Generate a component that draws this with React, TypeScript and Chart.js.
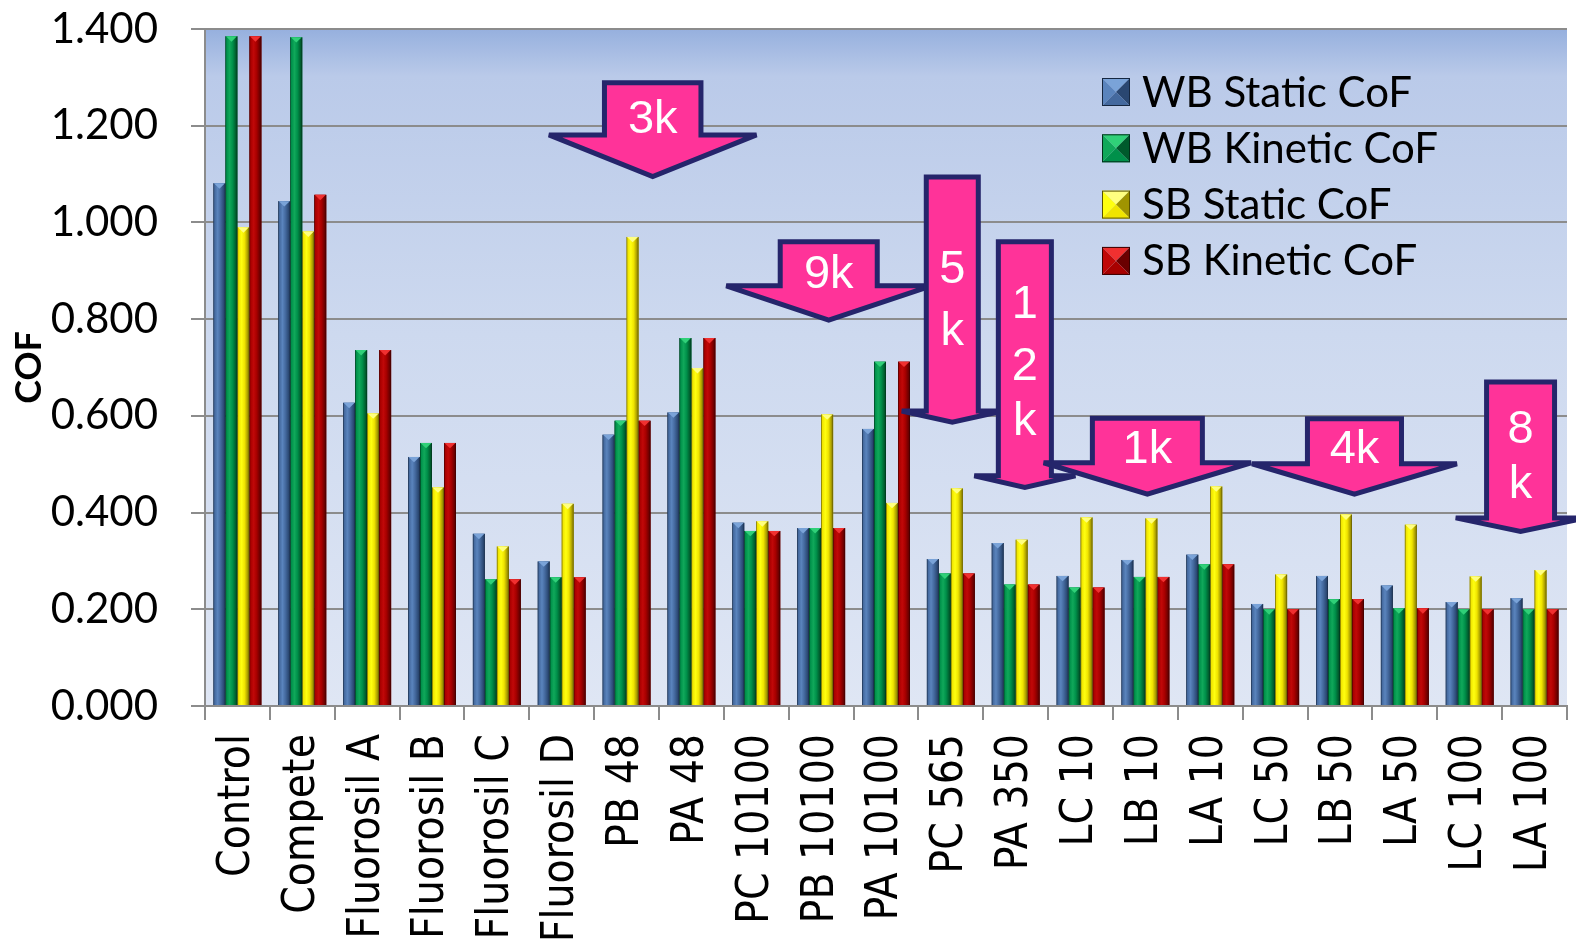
import React, { useEffect, useRef } from 'react';
import { Chart, registerables } from 'chart.js';

Chart.register(...registerables);

const CATEGORIES = [
  'Control', 'Compete', 'Fluorosil A', 'Fluorosil B', 'Fluorosil C', 'Fluorosil D',
  'PB 48', 'PA 48', 'PC 10100', 'PB 10100', 'PA 10100', 'PC 565', 'PA 350',
  'LC 10', 'LB 10', 'LA 10', 'LC 50', 'LB 50', 'LA 50', 'LC 100', 'LA 100',
];

const SERIES_NAMES = ['WB Static CoF', 'WB Kinetic CoF', 'SB Static CoF', 'SB Kinetic CoF'];

const WB_STATIC = [1.081, 1.044, 0.627, 0.515, 0.356, 0.299, 0.561, 0.607, 0.379, 0.368, 0.573, 0.304, 0.337, 0.269, 0.302, 0.313, 0.211, 0.269, 0.249, 0.215, 0.223];
const WB_KINETIC = [1.385, 1.383, 0.736, 0.544, 0.262, 0.266, 0.590, 0.761, 0.362, 0.368, 0.712, 0.274, 0.251, 0.245, 0.267, 0.293, 0.200, 0.221, 0.202, 0.200, 0.200];
const SB_STATIC = [0.990, 0.981, 0.605, 0.452, 0.330, 0.418, 0.970, 0.699, 0.382, 0.603, 0.420, 0.450, 0.344, 0.390, 0.388, 0.454, 0.272, 0.396, 0.375, 0.268, 0.281];
const SB_KINETIC = [1.385, 1.057, 0.736, 0.544, 0.262, 0.266, 0.590, 0.761, 0.362, 0.368, 0.712, 0.274, 0.251, 0.245, 0.267, 0.293, 0.200, 0.221, 0.202, 0.200, 0.200];

const Y_MIN = 0;
const Y_MAX = 1.4;
const Y_STEP = 0.2;
const Y_TITLE = 'COF';

// annotation arrows: x in category units, y in value units
const ARROW_TEXT = [['3k'], ['9k'], ['5', 'k'], ['1', '2', 'k'], ['1k'], ['4k'], ['8', 'k']];
const ARROWS = [
  { x: 6.403, body: 0.744, wing: 1.6, top: 1.289, neck: 1.181, tip: 1.095, textY: [1.211] },
  { x: 9.117, body: 0.748, wing: 1.58, top: 0.960, neck: 0.869, tip: 0.798, textY: [0.891] },
  { x: 11.022, body: 0.401, wing: 0.78, top: 1.094, neck: 0.610, tip: 0.587, textY: [0.901, 0.773] },
  { x: 12.141, body: 0.409, wing: 0.78, top: 0.960, neck: 0.476, tip: 0.452, textY: [0.829, 0.700, 0.587] },
  { x: 14.03, body: 0.848, wing: 1.6, top: 0.595, neck: 0.503, tip: 0.438, textY: [0.529] },
  { x: 17.223, body: 0.725, wing: 1.58, top: 0.594, neck: 0.501, tip: 0.438, textY: [0.529] },
  { x: 19.784, body: 0.524, wing: 1.0, top: 0.670, neck: 0.389, tip: 0.361, textY: [0.570, 0.456] },
];

const PALETTE = [
  { base: '#44699e', light: '#5a84bd', dark: '#2a4771', edge: '#162740', cap: '#7aa3d8' },
  { base: '#00904a', light: '#10a85a', dark: '#005a2c', edge: '#00301a', cap: '#30d078' },
  { base: '#f0e400', light: '#ffff10', dark: '#a09400', edge: '#5a5200', cap: '#ffff80' },
  { base: '#a80000', light: '#c00808', dark: '#6a0000', edge: '#380000', cap: '#f03030' },
];

const bgPlugin = {
  id: 'bgGradient',
  beforeDraw(chart: any) {
    const { ctx, chartArea: a } = chart;
    const g = ctx.createLinearGradient(0, a.top, 0, a.bottom);
    g.addColorStop(0, '#96b0de');
    g.addColorStop(0.07, '#bacae9');
    g.addColorStop(0.45, '#cdd9ef');
    g.addColorStop(1, '#dfe6f4');
    ctx.save();
    ctx.fillStyle = g;
    ctx.fillRect(a.left, a.top, a.right - a.left, a.bottom - a.top);
    ctx.restore();
  },
};

const barShadePlugin = {
  id: 'barShade',
  afterDatasetsDraw(chart: any) {
    const { ctx } = chart;
    ctx.save();
    chart.data.datasets.forEach((ds: any, di: number) => {
      const meta = chart.getDatasetMeta(di);
      const p = PALETTE[di];
      meta.data.forEach((el: any) => {
        const w = el.width;
        const left = el.x - w / 2;
        const right = el.x + w / 2;
        const top = Math.min(el.y, el.base);
        const bottom = Math.max(el.y, el.base);
        const g = ctx.createLinearGradient(left, 0, right, 0);
        g.addColorStop(0, p.edge);
        g.addColorStop(0.1, p.base);
        g.addColorStop(0.35, p.light);
        g.addColorStop(0.6, p.base);
        g.addColorStop(0.88, p.dark);
        g.addColorStop(1, p.edge);
        ctx.fillStyle = g;
        ctx.fillRect(left, top, w, bottom - top);
        ctx.beginPath();
        ctx.moveTo(left + 0.5, top);
        ctx.lineTo(right - 0.5, top);
        ctx.lineTo(el.x, top + w * 0.45);
        ctx.closePath();
        ctx.fillStyle = p.cap;
        ctx.fill();
      });
    });
    ctx.restore();
  },
};

const overlayPlugin = {
  id: 'overlay',
  afterDraw(chart: any) {
    const { ctx, chartArea } = chart;
    const xs = chart.scales.x;
    const ys = chart.scales.y;
    const x0 = xs.getPixelForValue(0);
    const cw = xs.getPixelForValue(1) - x0;

    // legend
    ctx.save();
    const boxX = chartArea.right - 465;
    const textX = boxX + 40;
    const y0 = chartArea.top + 63;
    const step = 56.3;
    const s = 28;
    chart.data.datasets.forEach((ds: any, i: number) => {
      const p = PALETTE[i];
      const cy = y0 + i * step;
      const bx = boxX;
      const by = cy - s / 2;
      const cxm = bx + s / 2;
      const cym = by + s / 2;
      const tri = (pts: number[][], col: string) => {
        ctx.beginPath();
        ctx.moveTo(pts[0][0], pts[0][1]);
        ctx.lineTo(pts[1][0], pts[1][1]);
        ctx.lineTo(pts[2][0], pts[2][1]);
        ctx.closePath();
        ctx.fillStyle = col;
        ctx.fill();
      };
      tri([[bx, by], [bx + s, by], [cxm, cym]], p.cap);
      tri([[bx, by], [bx, by + s], [cxm, cym]], p.light);
      tri([[bx + s, by], [bx + s, by + s], [cxm, cym]], p.dark);
      tri([[bx, by + s], [bx + s, by + s], [cxm, cym]], p.base);
      ctx.strokeStyle = p.edge;
      ctx.lineWidth = 1;
      ctx.strokeRect(bx + 0.5, by + 0.5, s - 1, s - 1);
      ctx.fillStyle = '#000';
      ctx.font = '42px Lato';
      ctx.textAlign = 'left';
      ctx.textBaseline = 'middle';
      ctx.fillText(ds.label, textX, cy + 1);
    });
    ctx.restore();

    // arrows
    ctx.save();
    ARROWS.forEach((a, i) => {
      const cx = x0 + a.x * cw;
      const bl = cx - a.body * cw;
      const br = cx + a.body * cw;
      const wl = cx - a.wing * cw;
      const wr = cx + a.wing * cw;
      const top = ys.getPixelForValue(a.top);
      const neck = ys.getPixelForValue(a.neck);
      const tip = ys.getPixelForValue(a.tip);
      ctx.beginPath();
      ctx.moveTo(bl, top);
      ctx.lineTo(br, top);
      ctx.lineTo(br, neck);
      ctx.lineTo(wr, neck);
      ctx.lineTo(cx, tip);
      ctx.lineTo(wl, neck);
      ctx.lineTo(bl, neck);
      ctx.closePath();
      ctx.fillStyle = '#ff3399';
      ctx.fill();
      ctx.lineWidth = 5;
      ctx.lineJoin = 'miter';
      ctx.miterLimit = 4;
      ctx.strokeStyle = '#25256b';
      ctx.stroke();
      ctx.fillStyle = '#ffffff';
      ctx.font = '47px "Liberation Sans", Arial, sans-serif';
      ctx.textAlign = 'center';
      ctx.textBaseline = 'middle';
      ARROW_TEXT[i].forEach((t, j) => {
        ctx.fillText(t, cx, ys.getPixelForValue(a.textY[j]));
      });
    });
    ctx.restore();
  },
};

export default function App() {
  const ref = useRef<HTMLCanvasElement | null>(null);

  useEffect(() => {
    if (!ref.current) return;
    const series = [WB_STATIC, WB_KINETIC, SB_STATIC, SB_KINETIC];
    const chart = new Chart(ref.current, {
      type: 'bar',
      data: {
        labels: CATEGORIES,
        datasets: series.map((d, i) => ({
          label: SERIES_NAMES[i],
          data: d,
          backgroundColor: PALETTE[i].base,
          borderWidth: 0,
          categoryPercentage: 0.74,
          barPercentage: 1.0,
        })),
      },
      options: {
        responsive: false,
        animation: false,
        layout: { padding: { top: 29, right: 9, left: 0, bottom: 0 } },
        plugins: {
          legend: { display: false },
          tooltip: { enabled: false },
          title: { display: false },
        },
        scales: {
          x: {
            grid: {
              offset: true,
              drawOnChartArea: false,
              drawTicks: true,
              tickLength: 14,
              color: '#8c8c8c',
              lineWidth: 2,
            },
            border: { display: true, color: '#8c8c8c', width: 2 },
            ticks: {
              autoSkip: false,
              minRotation: 90,
              maxRotation: 90,
              padding: 14,
              color: '#000',
              font: { family: '"DejaVu Sans Condensed", "DejaVu Sans", sans-serif', size: 44 },
            },
            afterFit: (scale: any) => {
              scale.height = 942 - 706;
              scale.paddingLeft = 0;
              scale.paddingRight = 0;
            },
          },
          y: {
            min: Y_MIN,
            max: Y_MAX,
            ticks: {
              stepSize: Y_STEP,
              padding: 33,
              color: '#000',
              font: { family: 'Lato', size: 42 },
              callback: (v: any) => Number(v).toFixed(3),
            },
            grid: {
              color: '#8c8c8c',
              lineWidth: 2,
              tickLength: 14,
              drawTicks: true,
            },
            border: { display: true, color: '#8c8c8c', width: 2 },
            title: {
              display: true,
              text: Y_TITLE,
              color: '#000',
              font: { family: 'Lato', size: 36, weight: 'bold' },
              padding: { top: 8, bottom: 0 },
            },
            afterFit: (scale: any) => {
              scale.width = 205;
              scale.paddingTop = 0;
              scale.paddingBottom = 0;
            },
          },
        },
      },
      plugins: [bgPlugin, barShadePlugin, overlayPlugin],
    } as any);
    return () => chart.destroy();
  }, []);

  return (
    <div style={{ position: 'fixed', left: 0, top: 0, width: 1576, height: 942, background: '#fff' }}>
      <canvas ref={ref} width={1576} height={942} style={{ display: 'block' }} />
    </div>
  );
}
